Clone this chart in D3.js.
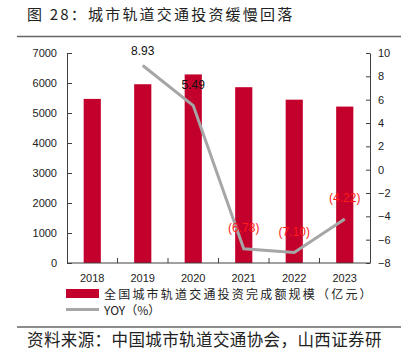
<!DOCTYPE html>
<html>
<head>
<meta charset="utf-8">
<script src="https://cdn.jsdelivr.net/npm/d3@7"></script>
<style>
  body { margin: 0; background: #fff; }
  text { font-family: "Liberation Sans", Arial, sans-serif; }
  .cjk { font-family: "Noto Sans CJK SC", sans-serif; }
</style>
</head>
<body>
<div id="chart"></div>
<script>
// data
let years = ["2018", "2019", "2020", "2021", "2022", "2023"];
let investment = [5470, 5959, 6286, 5860, 5444, 5214];   // 亿元
let yoyYears = ["2019", "2020", "2021", "2022", "2023"];
let yoy = [8.93, 5.49, -6.78, -7.10, -4.22];               // %
let leftTicks = [0, 1000, 2000, 3000, 4000, 5000, 6000, 7000];
let rightTicks = [-8, -6, -4, -2, 0, 2, 4, 6, 8, 10];

let width = 406, height = 363;
let plot = { left: 67, right: 370, top: 53, bottom: 263 };
let barColor = "#c3002b";
let lineColor = "#a6a6a6";
let axisColor = "#404040";

let svg = d3.select("#chart").append("svg")
  .attr("width", width)
  .attr("height", height);

// title + rules
svg.append("text").attr("class", "cjk")
  .attr("x", 27).attr("y", 20)
  .attr("font-size", 15).attr("letter-spacing", 2.2).attr("fill", "#222")
  .attr("xml:space", "preserve")
  .text("图 28：城市轨道交通投资缓慢回落");

svg.append("line")
  .attr("x1", 17).attr("x2", 401).attr("y1", 36.5).attr("y2", 36.5)
  .attr("stroke", "#666").attr("stroke-width", 1.5);

let x = d3.scaleBand()
  .domain(years)
  .range([plot.left, plot.right])
  .paddingInner(0.66).paddingOuter(0.33);

let yL = d3.scaleLinear().domain([0, 7000]).range([plot.bottom, plot.top]);
let yR = d3.scaleLinear().domain([-8, 10]).range([plot.bottom, plot.top]);

// bars
svg.selectAll(".bar")
  .data(investment)
  .enter().append("rect").classed("bar", true)
  .attr("x", (d, i) => x(years[i]))
  .attr("width", x.bandwidth())
  .attr("y", d => yL(d))
  .attr("height", d => plot.bottom - yL(d))
  .attr("fill", barColor);

// left axis
let leftAxis = svg.append("g")
  .attr("transform", "translate(" + plot.left + ",0)")
  .call(d3.axisLeft(yL).tickValues(leftTicks).tickFormat(d3.format("d"))
    .tickSizeInner(-5).tickSizeOuter(0).tickPadding(10));
leftAxis.selectAll("text").attr("font-size", 11).attr("fill", "#222")
  .attr("font-family", "Liberation Sans, Arial, sans-serif");

// right axis
let rightAxis = svg.append("g")
  .attr("transform", "translate(" + plot.right + ",0)")
  .call(d3.axisRight(yR).tickValues(rightTicks).tickSizeInner(-4).tickSizeOuter(0).tickPadding(8));
rightAxis.selectAll("text").attr("font-size", 11).attr("fill", "#222")
  .attr("font-family", "Liberation Sans, Arial, sans-serif");

// bottom axis: ticks sit at the category boundaries, pointing up
let bottom = svg.append("g").attr("transform", "translate(0," + plot.bottom + ")");
bottom.append("line")
  .attr("x1", plot.left).attr("x2", plot.right)
  .attr("stroke", axisColor);
bottom.selectAll(".bt")
  .data(years.slice(1))
  .enter().append("line").classed("bt", true)
  .attr("x1", d => x(d) - (x.step() - x.bandwidth()) / 2)
  .attr("x2", d => x(d) - (x.step() - x.bandwidth()) / 2)
  .attr("y1", 0).attr("y2", -5)
  .attr("stroke", axisColor);
bottom.selectAll(".xl")
  .data(years)
  .enter().append("text").classed("xl", true)
  .attr("x", d => x(d) + x.bandwidth() / 2)
  .attr("y", 19)
  .attr("text-anchor", "middle")
  .attr("font-size", 11).attr("fill", "#222")
  .text(d => d);

svg.selectAll(".domain").attr("stroke", axisColor);
svg.selectAll(".tick line").attr("stroke", axisColor);

// YOY line
let cx = d => x(d) + x.bandwidth() / 2;
let line = d3.line()
  .x((d, i) => cx(yoyYears[i]))
  .y(d => yR(d));
svg.append("path")
  .datum(yoy)
  .attr("d", line)
  .attr("fill", "none")
  .attr("stroke", lineColor)
  .attr("stroke-width", 3);

svg.selectAll(".lab")
  .data(yoy)
  .enter().append("text").classed("lab", true)
  .attr("x", (d, i) => cx(yoyYears[i]))
  .attr("y", d => Math.max(yR(d) - 17, plot.top + 2))
  .attr("text-anchor", "middle")
  .attr("font-size", 12)
  .attr("fill", d => d < 0 ? "#ff1a1a" : "#111")
  .text(d => d < 0 ? "(" + Math.abs(d).toFixed(2) + ")" : d.toFixed(2));

// legend
let lg = svg.append("g");
lg.append("rect").attr("x", 66).attr("y", 289).attr("width", 33).attr("height", 9).attr("fill", barColor);
lg.append("text").attr("class", "cjk")
  .attr("x", 104).attr("y", 299)
  .attr("font-size", 12).attr("letter-spacing", 2.2).attr("fill", "#222")
  .text("全国城市轨道交通投资完成额规模（亿元）");
lg.append("line").attr("x1", 66).attr("x2", 99).attr("y1", 309.5).attr("y2", 309.5)
  .attr("stroke", lineColor).attr("stroke-width", 3);
lg.append("text").attr("class", "cjk")
  .attr("x", 104).attr("y", 314.5)
  .attr("font-size", 12).attr("fill", "#222")
  .text("YOY（%）");

// source
svg.append("line")
  .attr("x1", 17).attr("x2", 401).attr("y1", 327).attr("y2", 327)
  .attr("stroke", "#666").attr("stroke-width", 1.5);
svg.append("text").attr("class", "cjk")
  .attr("x", 27).attr("y", 346)
  .attr("font-size", 16.5).attr("letter-spacing", 0.4).attr("fill", "#222")
  .text("资料来源：中国城市轨道交通协会，山西证券研");
</script>
</body>
</html>
